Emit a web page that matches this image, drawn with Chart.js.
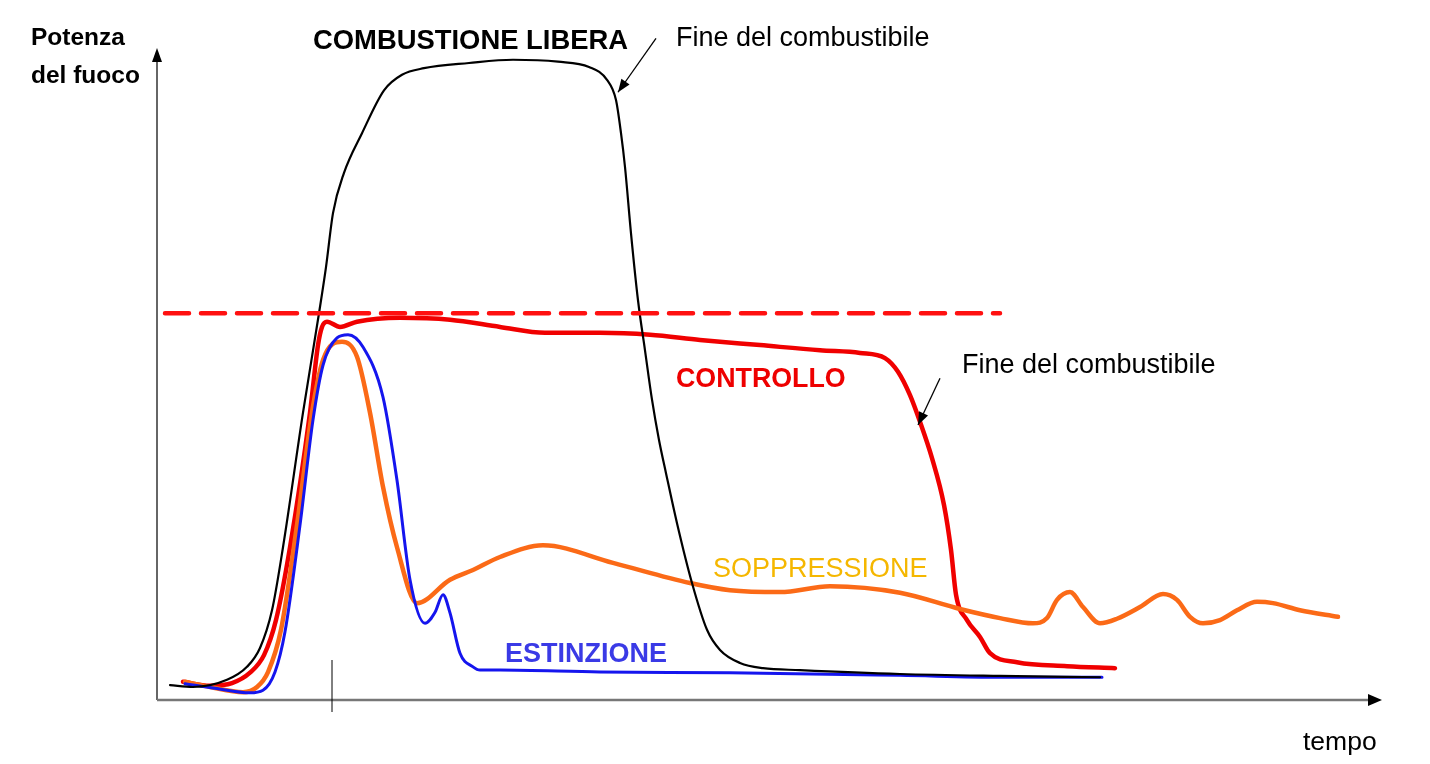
<!DOCTYPE html>
<html lang="it">

<head>
    <meta charset="UTF-8">
    <title>Potenza del fuoco nel tempo</title>
    <style>
        body {
            margin: 0;
            padding: 0;
            background-color: #fff;
        }

        canvas {
            display: block;
        }
    </style>
</head>

<body>
    <canvas id="fireChart" width="1430" height="764"></canvas>

    <script src="https://cdn.jsdelivr.net/npm/chart.js"></script>
    <script>
        // tempo (unita arbitrarie) / potenza del fuoco (0-100)
        const liberaT = [1.3, 3.6, 7.0, 9.0, 10.3, 11.5, 12.6, 14.6, 16.2, 16.9, 17.6, 18.7, 20.5, 22.7, 24.5, 26.7, 31.2, 35.6, 40.1, 43.2, 45.0, 45.9, 46.4, 46.8, 47.4, 48.1, 48.8, 49.5, 50.2, 50.9, 52.0, 53.5, 55.0, 56.3, 58.3, 60.6, 64.3, 74.3, 84.3, 94.3];
        const liberaP = [2.3, 2.0, 3.1, 5.1, 8.0, 13.8, 23.5, 44.2, 59.5, 66.6, 74.9, 81.1, 87.2, 93.8, 96.2, 97.2, 98.0, 98.5, 98.2, 97.4, 95.4, 92.3, 87.2, 82.0, 71.8, 61.5, 53.8, 46.2, 40.0, 34.9, 27.2, 18.0, 10.8, 7.7, 5.7, 4.9, 4.6, 4.0, 3.7, 3.5];

        const controlloT = [2.6, 5.3, 7.5, 9.3, 10.7, 11.9, 13.3, 15.3, 16.1, 16.5, 17.0, 18.3, 20.0, 24.3, 29.3, 34.3, 38.8, 44.3, 49.3, 54.3, 60.3, 66.3, 70.3, 72.8, 74.1, 75.3, 76.3, 77.5, 78.7, 79.4, 79.9, 81.0, 82.3, 83.3, 86.0, 91.0, 95.8];
        const controlloP = [2.8, 2.2, 2.6, 4.2, 6.9, 12.3, 23.5, 44.2, 54.6, 57.4, 58.2, 57.4, 58.2, 58.8, 58.5, 57.4, 56.5, 56.5, 56.2, 55.4, 54.6, 53.8, 53.4, 52.6, 50.5, 46.9, 42.8, 37.2, 30.0, 23.1, 16.2, 12.3, 9.7, 7.2, 5.8, 5.2, 4.9];

        const estinzioneT = [2.8, 5.8, 9.3, 10.6, 11.8, 12.8, 14.3, 15.6, 16.6, 18.0, 19.1, 20.6, 22.6, 24.0, 25.3, 26.8, 27.8, 28.6, 29.3, 30.3, 31.6, 32.3, 34.3, 44.3, 57.3, 74.3, 84.3, 94.5];
        const estinzioneP = [2.5, 1.8, 1.1, 1.5, 4.3, 10.5, 26.9, 43.1, 51.5, 55.7, 56.2, 54.3, 46.6, 33.8, 18.5, 11.8, 13.5, 16.2, 13.4, 7.2, 5.1, 4.6, 4.6, 4.3, 4.2, 3.8, 3.5, 3.5];

        const soppressioneT = [2.8, 5.3, 8.6, 10.0, 11.1, 12.4, 14.0, 15.5, 16.6, 18.5, 20.0, 21.3, 22.6, 24.0, 26.0, 29.3, 31.6, 34.3, 38.6, 45.6, 53.3, 57.3, 62.3, 67.3, 74.3, 80.3, 84.3, 87.6, 89.0, 90.0, 91.3, 92.6, 94.3, 96.0, 98.3, 100.6, 102.0, 103.3, 104.6, 106.3, 108.0, 110.0, 111.6, 114.3, 118.1];
        const soppressioneP = [2.8, 2.0, 1.2, 2.0, 4.3, 10.8, 26.9, 44.2, 52.3, 55.1, 52.8, 44.2, 32.8, 23.5, 14.9, 18.5, 20.0, 22.0, 23.8, 21.1, 18.0, 16.9, 16.6, 17.5, 16.5, 14.0, 12.6, 11.8, 12.6, 15.4, 16.6, 14.3, 11.8, 12.5, 14.3, 16.3, 15.4, 12.8, 11.8, 12.3, 13.8, 15.1, 14.9, 13.8, 12.8];

        // soglia di controllo (linea tratteggiata)
        const sogliaT = [0.8, 84.3];
        const sogliaP = [59.5, 59.5];

        // istante di intervento (tacca sull'asse dei tempi)
        const interventoT = 17.5;

        // frecce "Fine del combustibile": [t0, p0, t1, p1]
        const frecceFine = [
            [49.9, 101.8, 46.1, 93.5],
            [78.3, 49.5, 76.1, 42.3]
        ];

        function toPoints(ts, ps) {
            return ts.map((t, i) => ({ x: t, y: ps[i] }));
        }

        function arrowHead(ctx, x0, y0, x1, y1, len, half) {
            const a = Math.atan2(y1 - y0, x1 - x0);
            ctx.beginPath();
            ctx.moveTo(x1, y1);
            ctx.lineTo(x1 - len * Math.cos(a) + half * Math.sin(a), y1 - len * Math.sin(a) - half * Math.cos(a));
            ctx.lineTo(x1 - len * Math.cos(a) - half * Math.sin(a), y1 - len * Math.sin(a) + half * Math.cos(a));
            ctx.closePath();
            ctx.fill();
        }

        const FONT = "'Liberation Sans', Arial, sans-serif";

        // assi con frecce, tacca e scritte
        const decorations = {
            id: "decorations",
            beforeDatasetsDraw(chart) {
                const ctx = chart.ctx;
                const area = chart.chartArea;
                const xs = chart.scales.x;
                ctx.save();

                // asse y
                ctx.strokeStyle = "#333";
                ctx.lineWidth = 1.5;
                ctx.beginPath();
                ctx.moveTo(area.left, area.bottom);
                ctx.lineTo(area.left, area.top + 8);
                ctx.stroke();
                ctx.fillStyle = "#000";
                arrowHead(ctx, area.left, area.bottom, area.left, area.top - 2, 14, 5);

                // asse x
                ctx.strokeStyle = "#777";
                ctx.lineWidth = 2.5;
                ctx.beginPath();
                ctx.moveTo(area.left, area.bottom);
                ctx.lineTo(area.right - 6, area.bottom);
                ctx.stroke();
                arrowHead(ctx, area.left, area.bottom, area.right + 5, area.bottom, 14, 6);

                // tacca intervento
                const tx = xs.getPixelForValue(interventoT);
                ctx.strokeStyle = "#000";
                ctx.lineWidth = 1;
                ctx.beginPath();
                ctx.moveTo(tx, area.bottom - 40);
                ctx.lineTo(tx, area.bottom + 12);
                ctx.stroke();
                ctx.restore();
            },
            afterDatasetsDraw(chart) {
                const ctx = chart.ctx;
                const xs = chart.scales.x;
                const ys = chart.scales.y;
                ctx.save();

                // frecce fine del combustibile
                ctx.strokeStyle = "#000";
                ctx.fillStyle = "#000";
                ctx.lineWidth = 1.3;
                frecceFine.forEach(f => {
                    const x0 = xs.getPixelForValue(f[0]), y0 = ys.getPixelForValue(f[1]);
                    const x1 = xs.getPixelForValue(f[2]), y1 = ys.getPixelForValue(f[3]);
                    ctx.beginPath();
                    ctx.moveTo(x0, y0);
                    ctx.lineTo(x1, y1);
                    ctx.stroke();
                    arrowHead(ctx, x0, y0, x1, y1, 13, 5);
                });

                ctx.textBaseline = "alphabetic";
                ctx.textAlign = "left";

                ctx.fillStyle = "#000";
                ctx.font = "bold 24.5px " + FONT;
                ctx.fillText("Potenza", 31, 45);
                ctx.fillText("del fuoco", 31, 83);

                ctx.font = "bold 27.4px " + FONT;
                ctx.fillText("COMBUSTIONE LIBERA", 313, 49);

                ctx.font = "27px " + FONT;
                ctx.fillText("Fine del combustibile", 676, 46);
                ctx.fillText("Fine del combustibile", 962, 373);

                ctx.fillStyle = "#ee0000";
                ctx.font = "bold 26.8px " + FONT;
                ctx.fillText("CONTROLLO", 676, 387);

                ctx.fillStyle = "#f5b700";
                ctx.font = "27px " + FONT;
                ctx.fillText("SOPPRESSIONE", 713, 577);

                ctx.fillStyle = "#3a3ae6";
                ctx.font = "bold 27px " + FONT;
                ctx.fillText("ESTINZIONE", 505, 662);

                ctx.fillStyle = "#000";
                ctx.font = "26.5px " + FONT;
                ctx.fillText("tempo", 1303, 750);
                ctx.restore();
            }
        };

        const ctxFire = document.getElementById("fireChart").getContext("2d");

        new Chart(ctxFire, {
            type: "line",
            data: {
                datasets: [{
                    label: "Soglia",
                    data: toPoints(sogliaT, sogliaP),
                    borderColor: "#ff1010",
                    borderWidth: 4.5,
                    borderDash: [24, 12],
                    tension: 0
                }, {
                    label: "Combustione libera",
                    data: toPoints(liberaT, liberaP),
                    borderColor: "#000",
                    borderWidth: 2.2
                }, {
                    label: "Estinzione",
                    data: toPoints(estinzioneT, estinzioneP),
                    borderColor: "#1515ee",
                    borderWidth: 3
                }, {
                    label: "Soppressione",
                    data: toPoints(soppressioneT, soppressioneP),
                    borderColor: "#fb6a17",
                    borderWidth: 4.5
                }, {
                    label: "Controllo",
                    data: toPoints(controlloT, controlloP),
                    borderColor: "#f00000",
                    borderWidth: 4.5
                }]
            },
            options: {
                responsive: false,
                animation: false,
                layout: {
                    padding: { left: 157, right: 53, top: 50, bottom: 64 }
                },
                elements: {
                    point: { radius: 0 },
                    line: { cubicInterpolationMode: "monotone", borderCapStyle: "round", borderJoinStyle: "round" }
                },
                scales: {
                    x: { type: "linear", min: 0, max: 122, display: false },
                    y: { min: 0, max: 100, display: false }
                },
                plugins: {
                    legend: { display: false },
                    tooltip: { enabled: false }
                }
            },
            plugins: [decorations]
        });
    </script>

</body>

</html>
